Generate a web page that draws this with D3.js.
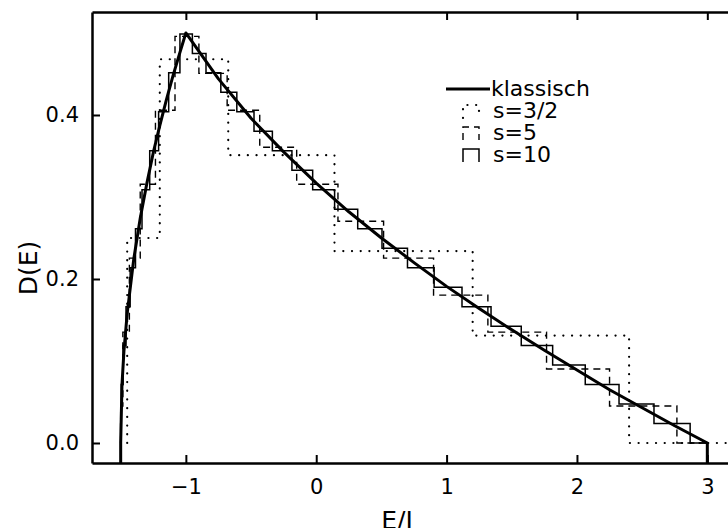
<!DOCTYPE html>
<html>
<head>
<meta charset="utf-8">
<script src="https://cdn.jsdelivr.net/npm/d3@7"></script>
<style>
body { margin: 0; background: #fff; }
svg { display: block; font-family: "DejaVu Sans", sans-serif; }
</style>
</head>
<body>
<div id="chart"></div>
<script>
// classical density of states
const classicE = [-1.5, -1.49, -1.475, -1.45, -1.4, -1.35, -1.3, -1.25, -1.2, -1.15, -1.1, -1.05, -1.0,
  -0.75, -0.5, -0.25, 0, 0.25, 0.5, 0.75, 1.0, 1.25, 1.5, 1.75, 2.0, 2.25, 2.5, 2.75, 3.0];
const classicD = [0, 0.071, 0.112, 0.158, 0.224, 0.274, 0.316, 0.354, 0.387, 0.418, 0.447, 0.474, 0.5,
  0.444, 0.396, 0.355, 0.317, 0.282, 0.25, 0.220, 0.191, 0.164, 0.138, 0.113, 0.089, 0.065, 0.043, 0.021, 0];

// s=10 histogram: bin edges and heights
const s10Edges = [-1.5, -1.4955, -1.4818, -1.4591, -1.4273, -1.3864, -1.3364, -1.2773, -1.2091, -1.1318,
  -1.0455, -0.95, -0.8455, -0.7318, -0.6091, -0.4773, -0.3364, -0.1864, -0.0273, 0.1409, 0.3182,
  0.5045, 0.7, 0.9045, 1.1182, 1.3409, 1.5727, 1.8136, 2.0636, 2.3227, 2.5909, 2.8682];
const s10Heights = [0.0238, 0.0713, 0.1188, 0.1663, 0.2138, 0.2613, 0.3088, 0.3563, 0.4039, 0.4514,
  0.4989, 0.4751, 0.4514, 0.4276, 0.4039, 0.3801, 0.3563, 0.3326, 0.3088, 0.2851, 0.2613, 0.2376,
  0.2138, 0.19, 0.1663, 0.1425, 0.1188, 0.095, 0.0713, 0.0475, 0.0238];

// s=5 histogram
const s5Edges = [-1.5, -1.4833, -1.4333, -1.35, -1.2333, -1.0833, -0.9, -0.6833, -0.4333, -0.15,
  0.1667, 0.5167, 0.9, 1.3167, 1.7667, 2.25, 2.7667];
const s5Heights = [0.0451, 0.1352, 0.2254, 0.3156, 0.4057, 0.4959, 0.4508, 0.4057, 0.3606, 0.3156,
  0.2705, 0.2254, 0.1803, 0.1352, 0.0902, 0.0451];

// s=3/2 histogram
const s32Edges = [-1.45, -1.2, -0.675, 0.14, 1.2, 2.4];
const s32Heights = [0.25, 0.468, 0.351, 0.234, 0.131];

const xTicks = [-1, 0, 1, 2, 3];
const yTicks = [0, 0.2, 0.4];
const legendLabels = ['klassisch', 's=3/2', 's=5', 's=10'];

class DosChart {
  constructor(container, width, height, margin) {
    this.width = width; this.height = height; this.margin = margin; // [top, bottom, left, right]
    this.svg = d3.select(container).append('svg')
      .attr('width', width).attr('height', height);
    this.x = d3.scaleLinear().domain([-1.72, 3.22])
      .range([margin[2], width - margin[3]]);
    this.y = d3.scaleLinear().domain([-0.0244, 0.5256])
      .range([height - margin[1], margin[0]]);
    this.svg.append('clipPath').attr('id', 'plotclip').append('rect')
      .attr('x', margin[2]).attr('y', margin[0])
      .attr('width', width - margin[2] - margin[3])
      .attr('height', height - margin[0] - margin[1]);
    this.plot = this.svg.append('g').attr('clip-path', 'url(#plotclip)');
  }

  // turn edges/heights into points for a step-after line
  #stepPoints(edges, heights, xEnd) {
    let pts = [[edges[0], 0]];
    heights.forEach((h, i) => pts.push([edges[i], h]));
    pts.push([edges[edges.length - 1], 0]);
    pts.push([xEnd, 0]);
    return pts;
  }

  #drawSteps(edges, heights, xEnd, style) {
    let line = d3.line().curve(d3.curveStepAfter)
      .x(d => this.x(d[0])).y(d => this.y(d[1]));
    this.plot.append('path')
      .datum(this.#stepPoints(edges, heights, xEnd))
      .attr('d', line).attr('fill', 'none').attr('stroke', '#000')
      .call(style);
  }

  #axes() {
    let [t, b, l, r] = this.margin;
    let fmt = d3.format('.1f');
    let ax = (g) => g.call(s => s.select('.domain').attr('stroke-width', 2.5))
      .call(s => s.selectAll('.tick line').attr('stroke-width', 2));
    this.svg.append('g').attr('transform', `translate(0,${this.height - b})`)
      .call(d3.axisBottom(this.x).tickValues(xTicks).tickSize(-8).tickSizeOuter(0).tickPadding(16)
        .tickFormat(d => d < 0 ? '\u2212' + Math.abs(d) : d))
      .call(ax).selectAll('text').attr('font-size', 21).attr('font-family', 'DejaVu Sans');
    this.svg.append('g').attr('transform', `translate(0,${t})`)
      .call(d3.axisTop(this.x).tickValues(xTicks).tickSize(-8).tickSizeOuter(0).tickFormat(''))
      .call(ax);
    this.svg.append('g').attr('transform', `translate(${l},0)`)
      .call(d3.axisLeft(this.y).tickValues(yTicks).tickSize(-8).tickSizeOuter(0).tickPadding(13)
        .tickFormat(fmt))
      .call(ax).selectAll('text').attr('font-size', 21).attr('font-family', 'DejaVu Sans');
    this.svg.append('g').attr('transform', `translate(${this.width - r},0)`)
      .call(d3.axisRight(this.y).tickValues(yTicks).tickSize(-8).tickSizeOuter(0).tickFormat(''))
      .call(ax);

    this.svg.append('text').text('E/J')
      .attr('x', 397).attr('y', 529).attr('text-anchor', 'middle').attr('font-size', 25);
    this.svg.append('text').text('D(E)')
      .attr('transform', 'translate(37,268) rotate(-90)')
      .attr('text-anchor', 'middle').attr('font-size', 25);
  }

  #legend(styles) {
    let g = this.svg.append('g');
    legendLabels.forEach((lab, i) => {
      let yb = 96 + i * 22;
      g.append('text').text(lab).attr('x', i ? 493 : 491).attr('y', yb).attr('font-size', 22);
      if (i === 0) {
        g.append('line').attr('x1', 446).attr('x2', 490).attr('y1', yb - 7).attr('y2', yb - 7)
          .attr('stroke', '#000').call(styles[0]);
      } else {
        g.append('path').attr('d', `M463,${yb}V${yb - 13}H479V${yb}`)
          .attr('fill', 'none').attr('stroke', '#000').call(styles[i]);
      }
    });
  }

  render() {
    let classic = s => s.attr('stroke-width', 3).attr('stroke-linejoin', 'round');
    let dotted = s => s.attr('stroke-width', 2.2).attr('stroke-linecap', 'round')
      .attr('stroke-dasharray', '0.1 8.6');
    let dashed = s => s.attr('stroke-width', 1.4).attr('stroke-dasharray', '7 5');
    let thin = s => s.attr('stroke-width', 1.5);

    this.#drawSteps(s32Edges, s32Heights, 3.3, dotted);
    this.#drawSteps(s5Edges, s5Heights, 3.0, dashed);
    this.#drawSteps(s10Edges, s10Heights, 3.0, thin);

    let yBottom = this.y.domain()[0];
    let pts = classicE.map((e, i) => [e, classicD[i]]);
    pts.unshift([classicE[0], yBottom]);
    pts.push([classicE[classicE.length - 1], yBottom]);
    this.plot.append('path').datum(pts)
      .attr('d', d3.line().x(d => this.x(d[0])).y(d => this.y(d[1])))
      .attr('fill', 'none').attr('stroke', '#000').call(classic);

    this.#axes();
    this.#legend([classic, dotted, dashed, thin]);
    return this;
  }
}

new DosChart('#chart', 728, 528, [12, 65, 92, -8]).render();
</script>
</body>
</html>
